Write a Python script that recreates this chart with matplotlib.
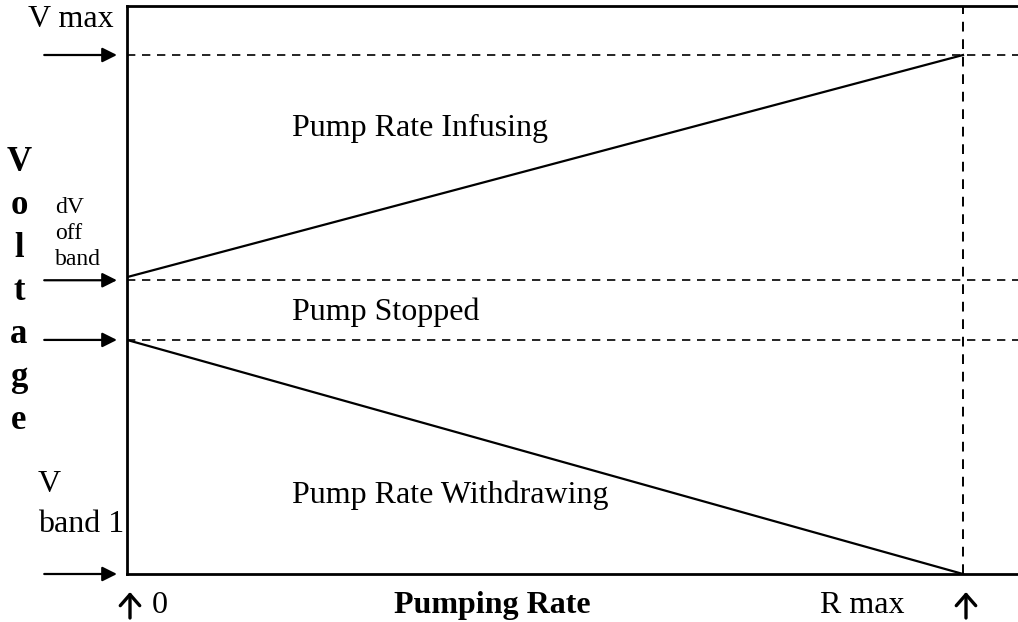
import numpy as np
import matplotlib.pyplot as plt

# pump rate (fraction of R max) and voltage levels (V band 1 = 0, V max = 10)
rate = [0.0, 1.0]
v_infuse = [5.72, 10.0]
v_withdraw = [4.51, 0.0]
v_levels = [10.0, 5.66, 4.51]           # V max, upper off band, lower off band
arrow_levels = [10.0, 5.66, 4.51, 0.0]

W, H = 1018, 622
serif = ['Liberation Serif', 'DejaVu Serif']

fig = plt.figure(figsize=(W / 100, H / 100), dpi=100)
ax = fig.add_axes([127 / W, 48 / H, 901 / W, 568 / H])
ax.set_xlim(0, 901 / 836)
ax.set_ylim(0, 568 / 51.9)

# the two pump rate lines
ax.plot(rate, v_infuse, color='black', lw=1.6)
ax.plot(rate, v_withdraw, color='black', lw=1.6)

# dashed guides
for v in v_levels:
    ax.axhline(v, color='black', lw=1.2, ls=(0, (5, 4)))
ax.axvline(rate[1], color='black', lw=1.4, ls=(0, (5, 4)))

for s in ['left', 'top', 'bottom']:
    ax.spines[s].set_linewidth(2)
ax.spines['right'].set_visible(False)
ax.set_xticks([])
ax.set_yticks([])

# arrows pointing at the voltage levels
for v in arrow_levels:
    ax.annotate('', xy=(-0.012, v), xycoords='data',
                xytext=(-0.099, v), textcoords='data',
                arrowprops=dict(arrowstyle='-|>', color='black', lw=1.6,
                                mutation_scale=22, shrinkA=0, shrinkB=0),
                annotation_clip=False)

def ftext(x, y, s, **kw):
    # x, y in pixels from the top left, y = baseline
    fig.text(x / W, 1 - y / H, s, family=serif, va='baseline', **kw)

ftext(28, 27, 'V max', fontsize=23)

# vertical "Voltage" label, letter by letter
letters = list('Voltage')
ys = [171, 214, 257, 300, 343, 386, 429]
for ch, y in zip(letters, ys):
    ftext(19, y, ch, fontsize=25, fontweight='bold', ha='center')

ftext(55, 213, 'dV', fontsize=17)
ftext(55, 239, 'off', fontsize=17)
ftext(55, 265, 'band', fontsize=17)

ftext(38, 492, 'V', fontsize=23)
ftext(38, 532, 'band 1', fontsize=23)

ftext(292, 136, 'Pump Rate Infusing', fontsize=23)
ftext(292, 320, 'Pump Stopped', fontsize=23)
ftext(292, 503, 'Pump Rate Withdrawing', fontsize=23)

ftext(492, 613, 'Pumping Rate', fontsize=23, fontweight='bold', ha='center')
ftext(820, 613, 'R max', fontsize=23)
ftext(152, 613, '0', fontsize=23)

# upward arrows under 0 and R max
for x in [130, 966]:
    ax.annotate('', xy=(x, H - 592), xycoords='figure pixels',
                xytext=(x, H - 618), textcoords='figure pixels',
                arrowprops=dict(arrowstyle='->,head_length=0.4,head_width=0.35',
                                color='black', lw=2.4, mutation_scale=20,
                                shrinkA=0, shrinkB=0),
                annotation_clip=False)

fig.savefig('out.png', dpi=100)
